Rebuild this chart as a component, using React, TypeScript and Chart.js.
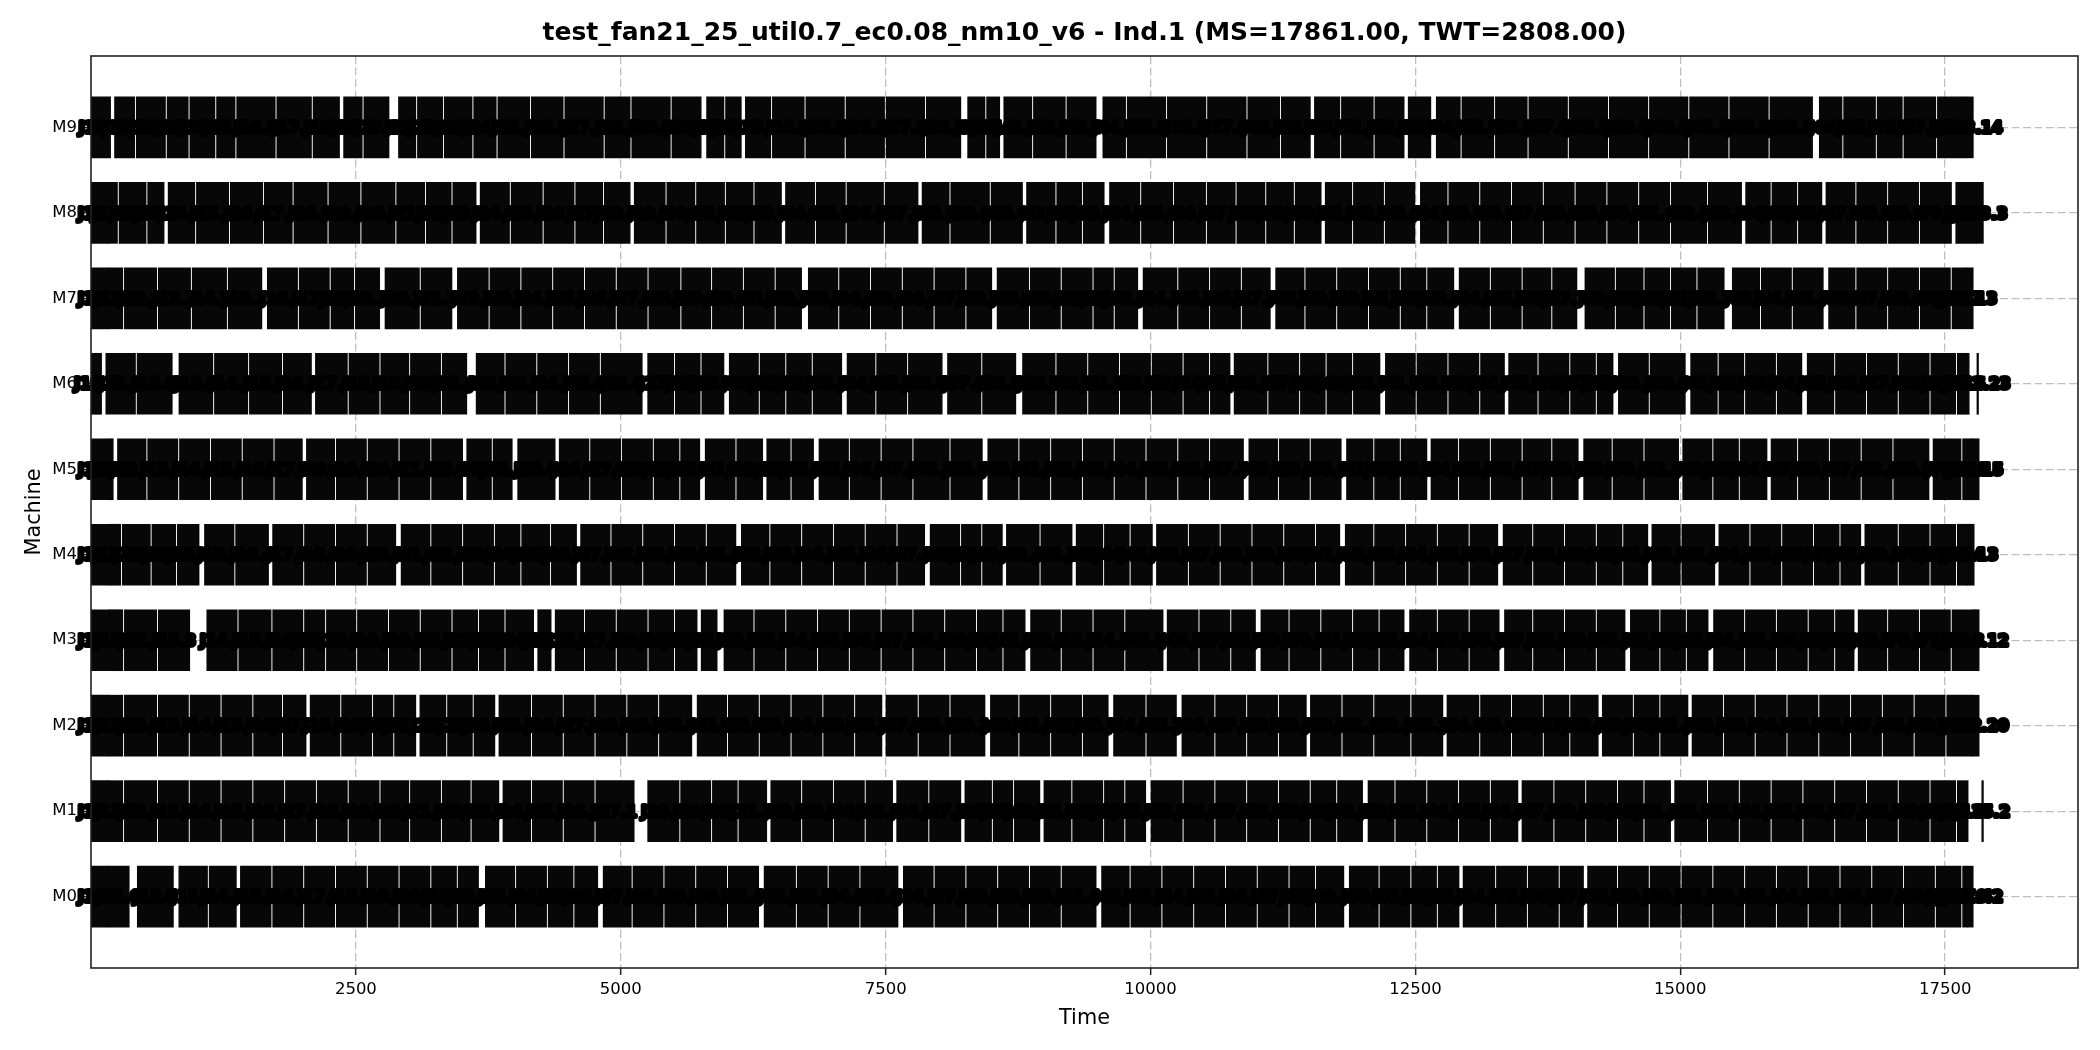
import React, { useEffect, useRef } from "react";
import { Chart, registerables } from "chart.js";

Chart.register(...registerables);

const TITLE = "test_fan21_25_util0.7_ec0.08_nm10_v6 - Ind.1 (MS=17861.00, TWT=2808.00)";
const machines = ["M0", "M1", "M2", "M3", "M4", "M5", "M6", "M7", "M8", "M9"];
const xTicks = [2500, 5000, 7500, 10000, 12500, 15000, 17500];
const xMin = 0;
const xMax = 18754;
const yMin = -0.835;
const yMax = 9.835;

const m9Jobs = [[0,185],[222,412],[427,703],[718,918],[933,1170],[1185,1360],[1375,1739],[1754,2081],[2096,2346],[2384,2560],[2575,2813],[2902,3066],[3081,3319],[3334,3597],[3612,3825],[3840,4141],[4156,4457],[4472,4836],[4851,5089],[5104,5468],[5483,5759],[5810,5974],[5989,6138],[6176,6416],[6431,6732],[6747,7111],[7126,7490],[7505,7869],[7884,8210],[8274,8438],[8453,8577],[8615,8880],[8895,9196],[9211,9487],[9550,9765],[9780,10144],[10159,10523],[10538,10903],[10918,11219],[11234,11509],[11547,11787],[11802,12103],[12118,12394],[12432,12646],[12697,12924],[12939,13240],[13255,13556],[13571,13936],[13951,14315],[14330,14694],[14709,15073],[15088,15452],[15467,15831],[15846,16249],[16312,16527],[16542,16843],[16858,17096],[17111,17412],[17427,17700],[17700,17766]];
const m8Jobs = [[0,170],[170,250],[265,520],[535,690],[728,980],[995,1300],[1315,1620],[1635,1900],[1915,2230],[2245,2540],[2555,2870],[2885,3150],[3165,3400],[3415,3635],[3673,3950],[3965,4260],[4275,4560],[4575,4830],[4845,5089],[5127,5420],[5435,5700],[5715,5980],[5995,6250],[6265,6517],[6555,6830],[6845,7120],[7135,7480],[7495,7806],[7844,8100],[8115,8480],[8495,8792],[8830,9100],[9115,9350],[9365,9563],[9613,9900],[9915,10210],[10225,10520],[10535,10800],[10815,11080],[11095,11350],[11365,11611],[11649,11900],[11915,12200],[12215,12496],[12547,12800],[12815,13100],[13115,13400],[13415,13700],[13715,14000],[14015,14300],[14315,14600],[14615,14900],[14915,15250],[15265,15579],[15617,15850],[15865,16100],[16115,16337],[16375,16650],[16665,16950],[16965,17250],[17265,17560],[17600,17800],[17800,17861]];
const m7Jobs = [[0,170],[170,300],[315,620],[635,940],[955,1280],[1295,1613],[1664,1950],[1965,2250],[2265,2480],[2495,2725],[2775,3100],[3115,3407],[3458,3750],[3765,4050],[4065,4350],[4365,4650],[4665,4950],[4965,5250],[5265,5560],[5575,5850],[5865,6150],[6165,6450],[6465,6707],[6770,7050],[7065,7350],[7365,7650],[7665,7950],[7965,8250],[8265,8502],[8552,8850],[8865,9150],[9165,9450],[9465,9650],[9665,9880],[9930,10250],[10265,10550],[10565,10850],[10865,11131],[11181,11450],[11465,11750],[11765,12050],[12065,12350],[12365,12600],[12615,12863],[12913,13200],[13215,13500],[13515,13780],[13795,14025],[14100,14380],[14395,14650],[14665,14900],[14915,15150],[15165,15415],[15491,15750],[15765,16050],[16065,16350],[16400,16650],[16665,16950],[16965,17250],[17265,17550],[17565,17700],[17700,17765]];
const m6Jobs = [[0,100],[140,420],[435,767],[830,1150],[1165,1480],[1495,1800],[1815,2081],[2118,2420],[2435,2720],[2735,3000],[3015,3300],[3315,3547],[3635,3900],[3915,4200],[4215,4500],[4515,4800],[4815,5203],[5254,5500],[5515,5750],[5765,5974],[6024,6300],[6315,6550],[6565,6800],[6815,7086],[7136,7400],[7415,7700],[7715,8034],[8084,8400],[8415,8729],[8792,9100],[9115,9400],[9415,9700],[9715,10000],[10015,10300],[10315,10550],[10565,10751],[10789,11100],[11115,11400],[11415,11650],[11665,11900],[11915,12166],[12217,12500],[12515,12800],[12815,13100],[13115,13341],[13380,13650],[13665,13950],[13965,14200],[14215,14366],[14416,14700],[14715,15048],[15098,15350],[15365,15600],[15615,15900],[15915,16148],[16198,16450],[16465,16750],[16765,17050],[17065,17350],[17365,17600],[17615,17727],[17800,17815]];
const m5Jobs = [[0,170],[170,210],[250,520],[535,820],[835,1120],[1135,1420],[1435,1720],[1735,1995],[2033,2300],[2315,2600],[2615,2900],[2915,3200],[3215,3508],[3546,3780],[3795,3976],[4027,4381],[4419,4700],[4715,5000],[5015,5300],[5315,5550],[5565,5746],[5797,6080],[6095,6340],[6378,6600],[6615,6820],[6871,7150],[7165,7450],[7465,7750],[7765,8100],[8115,8413],[8464,8750],[8765,9050],[9065,9350],[9365,9650],[9665,9950],[9965,10250],[10265,10550],[10565,10878],[10928,11200],[11215,11500],[11515,11800],[11850,12100],[12115,12350],[12365,12609],[12647,12900],[12915,13200],[13215,13500],[13515,13780],[13795,14037],[14088,14350],[14365,14650],[14665,14985],[15023,15300],[15315,15550],[15565,15819],[15857,16100],[16115,16400],[16415,16700],[16715,17000],[17015,17348],[17386,17650],[17665,17760],[17760,17821]];
const m4Jobs = [[0,170],[170,280],[295,560],[575,800],[815,1020],[1071,1350],[1365,1676],[1714,2000],[2015,2300],[2315,2600],[2615,2877],[2927,3200],[3215,3500],[3515,3800],[3815,4050],[4065,4330],[4345,4583],[4621,4900],[4915,5200],[5215,5500],[5515,5800],[5815,6087],[6138,6400],[6415,6700],[6715,7000],[7015,7300],[7315,7600],[7615,7869],[7920,8200],[8215,8400],[8415,8602],[8640,8950],[8965,9260],[9298,9550],[9565,9800],[9815,10018],[10056,10350],[10365,10650],[10665,10950],[10965,11250],[11265,11550],[11565,11787],[11838,12100],[12115,12400],[12415,12700],[12715,13000],[13015,13278],[13328,13600],[13615,13900],[13915,14200],[14215,14450],[14465,14694],[14732,15000],[15015,15326],[15364,15650],[15665,15950],[15965,16250],[16265,16500],[16515,16704],[16742,17050],[17065,17350],[17365,17600],[17615,17710],[17710,17774]];
const m3Jobs = [[0,170],[170,300],[315,620],[635,932],[1093,1380],[1395,1700],[1715,2000],[2015,2207],[2222,2500],[2515,2800],[2815,3100],[3115,3400],[3415,3650],[3665,3900],[3915,4178],[4216,4343],[4381,4650],[4665,4950],[4965,5250],[5265,5500],[5515,5721],[5759,5910],[5974,6250],[6265,6550],[6565,6850],[6865,7150],[7165,7450],[7465,7750],[7765,8050],[8065,8350],[8365,8600],[8615,8817],[8868,9150],[9165,9450],[9465,9750],[9765,10119],[10157,10450],[10465,10750],[10765,10991],[11042,11300],[11315,11600],[11615,11900],[11915,12150],[12165,12394],[12445,12700],[12715,13000],[13015,13291],[13341,13600],[13615,13900],[13915,14200],[14215,14479],[14529,14800],[14815,15050],[15065,15263],[15314,15600],[15615,15900],[15915,16200],[16215,16450],[16465,16641],[16679,16950],[16965,17250],[17265,17550],[17565,17760],[17760,17821]];
const m2Jobs = [[0,170],[170,300],[315,620],[635,920],[935,1220],[1235,1520],[1535,1800],[1815,2030],[2068,2350],[2365,2650],[2665,2850],[2865,3066],[3104,3350],[3365,3600],[3615,3812],[3850,4150],[4165,4450],[4465,4750],[4765,5050],[5065,5350],[5365,5671],[5721,6000],[6015,6300],[6315,6600],[6615,6900],[6915,7200],[7215,7465],[7503,7800],[7815,8100],[8115,8438],[8489,8750],[8765,9050],[9065,9350],[9365,9601],[9651,9950],[9965,10245],[10296,10600],[10615,10900],[10915,11200],[11215,11471],[11509,11800],[11815,12100],[12115,12450],[12465,12760],[12798,13100],[13115,13400],[13415,13700],[13715,13950],[13965,14226],[14264,14550],[14565,14800],[14815,15073],[15111,15400],[15415,15700],[15715,16000],[16015,16300],[16315,16600],[16615,16900],[16915,17200],[17215,17500],[17515,17760],[17760,17821]];
const m1Jobs = [[0,170],[170,300],[315,620],[635,920],[935,1220],[1235,1520],[1535,1820],[1835,2120],[2135,2420],[2435,2720],[2735,3000],[3015,3300],[3315,3580],[3595,3850],[3888,4150],[4165,4450],[4465,4750],[4765,5127],[5254,5550],[5565,5850],[5865,6100],[6115,6378],[6416,6700],[6715,7000],[7015,7300],[7315,7566],[7604,7900],[7915,8210],[8248,8500],[8515,8700],[8715,8956],[8994,9250],[9265,9550],[9565,9750],[9765,9955],[10005,10300],[10315,10600],[10615,10900],[10915,11200],[11215,11500],[11515,11750],[11765,12002],[12053,12300],[12315,12600],[12615,12900],[12915,13200],[13215,13468],[13506,13800],[13815,14100],[14115,14400],[14415,14650],[14665,14909],[14947,15250],[15265,15550],[15565,15850],[15865,16150],[16165,16450],[16465,16750],[16765,17050],[17065,17350],[17365,17600],[17615,17717],[17846,17861]];
const m0Jobs = [[0,170],[170,361],[437,778],[829,1100],[1115,1372],[1410,1700],[1715,2000],[2015,2300],[2315,2600],[2615,2900],[2915,3200],[3215,3450],[3465,3658],[3722,4000],[4015,4300],[4315,4550],[4565,4783],[4834,5100],[5115,5400],[5415,5700],[5715,6000],[6015,6302],[6353,6650],[6665,6950],[6965,7250],[7265,7617],[7667,7950],[7965,8250],[8265,8550],[8565,8850],[8865,9150],[9165,9487],[9538,9800],[9815,10100],[10115,10400],[10415,10700],[10715,11000],[11015,11300],[11315,11550],[11565,11825],[11876,12150],[12165,12450],[12465,12700],[12715,12912],[12950,13250],[13265,13550],[13565,13850],[13865,14087],[14125,14400],[14415,14700],[14715,15000],[15015,15300],[15315,15600],[15615,15900],[15915,16200],[16215,16500],[16515,16800],[16815,17100],[17115,17400],[17415,17650],[17665,17710],[17710,17765]];

const machineJobs = [m0Jobs, m1Jobs, m2Jobs, m3Jobs, m4Jobs, m5Jobs, m6Jobs, m7Jobs, m8Jobs, m9Jobs];
const lastLabels = ["J117.42", "J135.2", "J121.20", "J104.12", "J96.13", "J88.15", "J142.23", "J77.13", "J113.3", "J108.14"];

const FONT = '"DejaVu Sans", "Liberation Sans", sans-serif';

const labelPlugin = {
  id: "jobLabels",
  afterDatasetsDraw(chart: any) {
    const ctx = chart.ctx;
    ctx.save();
    const size = 15.5;
    ctx.font = `bold ${size}px ${FONT}`;
    ctx.fillStyle = "#000";
    ctx.strokeStyle = "#000";
    ctx.lineWidth = 4;
    ctx.lineJoin = "round";
    ctx.textAlign = "center";
    ctx.textBaseline = "alphabetic";
    chart.data.datasets.forEach((_ds: any, m: number) => {
      const meta = chart.getDatasetMeta(m);
      const n = meta.data.length;
      meta.data.forEach((el: any, i: number) => {
        const text = i === n - 1 ? lastLabels[m] : `J${10 + i}.${m}`;
        const cx = (el.x + el.base) / 2;
        const by = el.y + size * 0.365;
        ctx.strokeText(text, cx, by);
        ctx.fillText(text, cx, by);
      });
    });
    ctx.restore();
  },
};

const framePlugin = {
  id: "frameAndTitle",
  afterDraw(chart: any) {
    const { ctx, chartArea } = chart;
    ctx.save();
    ctx.strokeStyle = "#222";
    ctx.lineWidth = 1.6;
    ctx.strokeRect(chartArea.left, chartArea.top, chartArea.right - chartArea.left, chartArea.bottom - chartArea.top);
    ctx.fillStyle = "#000";
    ctx.font = `bold 25px ${FONT}`;
    ctx.textAlign = "center";
    ctx.textBaseline = "middle";
    ctx.fillText(TITLE, (chartArea.left + chartArea.right) / 2, 33);
    ctx.restore();
  },
};

export default function App() {
  const ref = useRef<HTMLCanvasElement | null>(null);
  useEffect(() => {
    document.body.style.margin = "0";
    Chart.defaults.font.family = FONT;
    const datasets = machineJobs.map((jobs, m) => ({
      label: machines[m],
      data: jobs.map(([s, e]) => ({ x: [s, e], y: m })),
      backgroundColor: "#070707",
      borderWidth: 0,
      grouped: false,
      barThickness: 61,
    }));
    const gridCommon = {
      color: "rgba(170,170,170,0.75)",
      lineWidth: 1.3,
      offset: false,
      drawTicks: true,
      tickLength: 7,
      tickColor: "#222",
      tickWidth: 1.5,
      tickBorderDash: [],
    };
    const chart = new Chart(ref.current as HTMLCanvasElement, {
      type: "bar",
      data: { datasets } as any,
      plugins: [labelPlugin, framePlugin],
      options: {
        animation: false,
        responsive: false,
        devicePixelRatio: 1,
        indexAxis: "y",
        layout: { padding: { left: 0, right: 22, top: 56, bottom: 0 } },
        plugins: {
          legend: { display: false },
          tooltip: { enabled: false },
          title: { display: false },
        },
        scales: {
          x: {
            type: "linear",
            position: "bottom",
            min: xMin,
            max: xMax,
            offset: false,
            z: 1,
            afterBuildTicks: (s: any) => {
              s.ticks = xTicks.map((v) => ({ value: v }));
            },
            afterFit: (s: any) => {
              s.height = 82;
            },
            ticks: {
              color: "#000",
              font: { family: FONT, size: 16.5 },
              padding: 5,
              maxRotation: 0,
              autoSkip: false,
              callback: (v: any) => String(v),
            },
            grid: gridCommon,
            border: { display: false, dash: [8, 3.5] },
            title: {
              display: true,
              text: "Time",
              color: "#000",
              font: { family: FONT, size: 20.8 },
              padding: { top: 0, bottom: 19 },
            },
          },
          y: {
            type: "linear",
            position: "left",
            min: yMin,
            max: yMax,
            offset: false,
            z: 1,
            afterBuildTicks: (s: any) => {
              s.ticks = machines.map((_, i) => ({ value: i }));
            },
            afterFit: (s: any) => {
              s.width = 91;
            },
            ticks: {
              color: "#000",
              font: { family: FONT, size: 16.5 },
              padding: 7,
              autoSkip: false,
              callback: (v: any) => machines[v] ?? "",
            },
            grid: gridCommon,
            border: { display: false, dash: [8, 3.5] },
            title: {
              display: true,
              text: "Machine",
              color: "#000",
              font: { family: FONT, size: 20.8 },
              padding: { top: 22, bottom: 0 },
            },
          },
        },
      } as any,
    });
    return () => chart.destroy();
  }, []);
  return <canvas ref={ref} width={2100} height={1050} style={{ display: "block" }} />;
}
